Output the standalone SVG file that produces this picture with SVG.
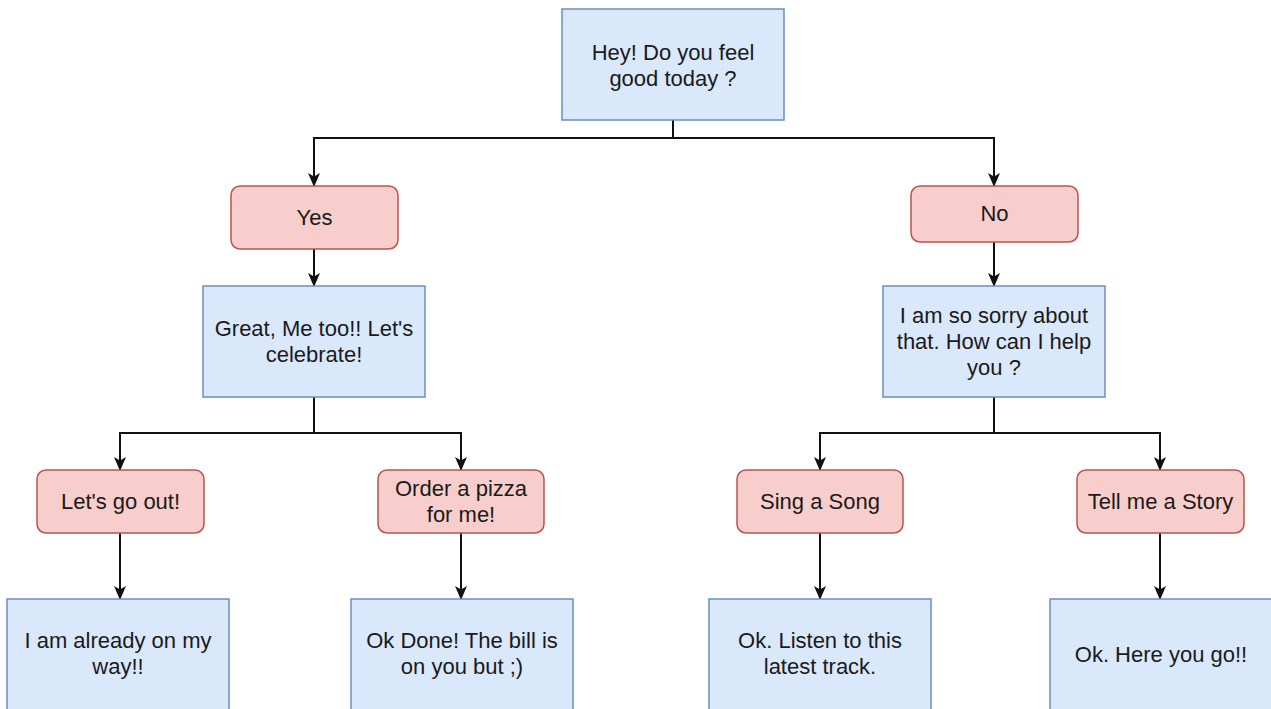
<svg xmlns="http://www.w3.org/2000/svg" width="1271" height="709" viewBox="0 0 1271 709">
<defs>
<style>
.blue{fill:#dae8fc;stroke:#6c8ebf;stroke-width:1.5}
.pink{fill:#f8cecc;stroke:#b85450;stroke-width:1.5}
.t{font-family:"Liberation Sans",Arial,Helvetica,sans-serif;font-size:22px;fill:#1a1a1a;text-anchor:middle}
.c{fill:none;stroke:#111;stroke-width:2;marker-end:url(#arr)}
</style>
<marker id="arr" viewBox="0 0 14 12" refX="13" refY="6" markerWidth="14" markerHeight="12" markerUnits="userSpaceOnUse" orient="auto">
<path d="M0,0 L14,6 L0,12 L3.5,6 Z" fill="#111"/>
</marker>
</defs>
<rect width="1271" height="709" fill="#ffffff"/>
<g id="connectors">
<path class="c" d="M673,120 V138 H314 V186"/>
<path class="c" d="M673,120 V138 H994 V186"/>
<path class="c" d="M314,249 V286"/>
<path class="c" d="M994,242 V286"/>
<path class="c" d="M314,397 V433 H120 V470"/>
<path class="c" d="M314,397 V433 H461 V470"/>
<path class="c" d="M994,397 V433 H820 V470"/>
<path class="c" d="M994,397 V433 H1160 V470"/>
<path class="c" d="M120,533 V599"/>
<path class="c" d="M461,533 V599"/>
<path class="c" d="M820,533 V599"/>
<path class="c" d="M1160,533 V599"/>
</g>
<g id="n-top">
<rect class="blue" x="562" y="9" width="222" height="111"/>
<text class="t" x="673" y="60">Hey! Do you feel</text>
<text class="t" x="673" y="86">good today ?</text>
</g>
<g id="n-yes">
<rect class="pink" x="231" y="186" width="167" height="63" rx="9"/>
<text class="t" x="314.5" y="225">Yes</text>
</g>
<g id="n-no">
<rect class="pink" x="911" y="186" width="167" height="56" rx="9"/>
<text class="t" x="994.5" y="221">No</text>
</g>
<g id="n-great">
<rect class="blue" x="203" y="286" width="222" height="111"/>
<text class="t" x="314" y="336">Great, Me too!! Let's</text>
<text class="t" x="314" y="362">celebrate!</text>
</g>
<g id="n-sorry">
<rect class="blue" x="883" y="286" width="222" height="111"/>
<text class="t" x="994" y="323">I am so sorry about</text>
<text class="t" x="994" y="349">that. How can I help</text>
<text class="t" x="994" y="375">you ?</text>
</g>
<g id="n-goout">
<rect class="pink" x="37" y="470" width="167" height="63" rx="9"/>
<text class="t" x="120.5" y="509">Let's go out!</text>
</g>
<g id="n-pizza">
<rect class="pink" x="378" y="470" width="166" height="63" rx="9"/>
<text class="t" x="461" y="496">Order a pizza</text>
<text class="t" x="461" y="522">for me!</text>
</g>
<g id="n-sing">
<rect class="pink" x="737" y="470" width="166" height="63" rx="9"/>
<text class="t" x="820" y="509">Sing a Song</text>
</g>
<g id="n-story">
<rect class="pink" x="1077" y="470" width="167" height="63" rx="9"/>
<text class="t" x="1160.5" y="509">Tell me a Story</text>
</g>
<g id="n-way">
<rect class="blue" x="7" y="599" width="222" height="111"/>
<text class="t" x="118" y="648">I am already on my</text>
<text class="t" x="118" y="674">way!!</text>
</g>
<g id="n-done">
<rect class="blue" x="351" y="599" width="222" height="111"/>
<text class="t" x="462" y="648">Ok Done! The bill is</text>
<text class="t" x="462" y="674">on you but ;)</text>
</g>
<g id="n-track">
<rect class="blue" x="709" y="599" width="222" height="111"/>
<text class="t" x="820" y="648">Ok. Listen to this</text>
<text class="t" x="820" y="674">latest track.</text>
</g>
<g id="n-here">
<rect class="blue" x="1050" y="599" width="222" height="111"/>
<text class="t" x="1161" y="662">Ok. Here you go!!</text>
</g>
</svg>
